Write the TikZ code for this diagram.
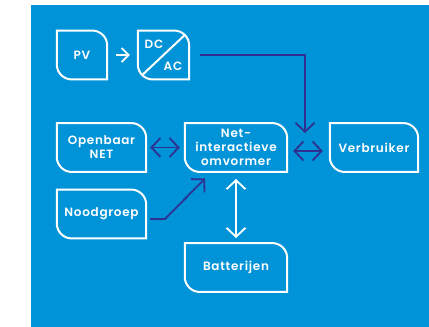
\documentclass[tikz,border=0pt]{standalone}
\usepackage{fontspec}
\newfontfamily\lab[LetterSpace=6]{Poppins SemiBold}
\usetikzlibrary{arrows.meta}
\definecolor{bgblue}{HTML}{0093D7}
\definecolor{navy}{HTML}{2E3192}
\tikzset{
  labfont/.style={font=\lab\fontsize{12}{14}\selectfont},
  leaf/.style={minimum width=#1, inner sep=0pt, text=white, align=center,
    labfont, minimum height=48.5pt},
  leaf/.default=89pt,
  boxline/.style={draw=white, line width=2pt},
  navyline/.style={draw=navy, line width=1.8pt},
  whiteline/.style={draw=white, line width=1.8pt},
  chv/.tip={Straight Barb[length=9pt,width=19pt]},
  chvs/.tip={Straight Barb[length=7pt,width=14pt]},
}
\newcommand{\leafshape}[1]{%
  \draw[boxline] (#1.north west) -- ([xshift=-15pt]#1.north east)
    arc[start angle=90,end angle=0,radius=15pt] -- (#1.south east)
    -- ([xshift=15pt]#1.south west)
    arc[start angle=270,end angle=180,radius=15pt] -- cycle;}
\begin{document}
\begin{tikzpicture}[x=1pt,y=1pt]
\useasboundingbox (0,0) rectangle (429,-327);
\fill[bgblue] (31,-5) rectangle (429,-327);

\node[leaf=50pt] (pv) at (82,-55) {PV};
\node[leaf=51pt] (dcac) at (163.5,-55) {};
\node[leaf] (open) at (101.5,-147.5) {Openbaar\\NET};
\node[leaf=102pt] (omv) at (236,-147.5) {Net-\\interactieve\\omvormer};
\node[leaf=88pt] (verb) at (374,-147.5) {Verbruiker};
\node[leaf] (nood) at (101.5,-214) {Noodgroep};
\node[leaf=102pt] (bat) at (236,-267.5) {Batterijen};
\foreach \n in {pv,dcac,open,omv,verb,nood,bat} {\leafshape{\n}}

% DC/AC diagonal and labels
\draw[boxline] ([xshift=-4.4pt,yshift=-4.4pt]dcac.north east) -- ([xshift=4.4pt,yshift=4.4pt]dcac.south west);
\node[text=white, labfont] (dc) at (154,-44) {DC};
\node[text=white, labfont] (ac) at (173,-66) {AC};

% connectors
\draw[whiteline, -{chvs}, shorten <=9pt, shorten >=8pt] (pv.east) -- (dcac.west);

\coordinate (j) at (305,-133);
\draw[navyline, -{chv}, shorten <=11pt] (dcac.east) -| (j);

\draw[navyline, {chv}-{chv}, shorten <=4pt, shorten >=5pt] (open.east) -- (omv.west);

\draw[navyline, {chv}-{chv}, shorten <=6pt, shorten >=7pt] ([yshift=-3.5pt]omv.east) -- ([yshift=-3.5pt]verb.west);

\coordinate (nk) at (165,-219);
\coordinate (ntip) at (205,-178.5);
\draw[navyline, -{chv}, shorten <=4pt] ([yshift=-5pt]nood.east) -- (nk) -- (ntip);

\draw[whiteline, {chv}-{chv}, shorten <=7pt, shorten >=5pt] (omv.south) -- (bat.north);
\end{tikzpicture}
\end{document}
